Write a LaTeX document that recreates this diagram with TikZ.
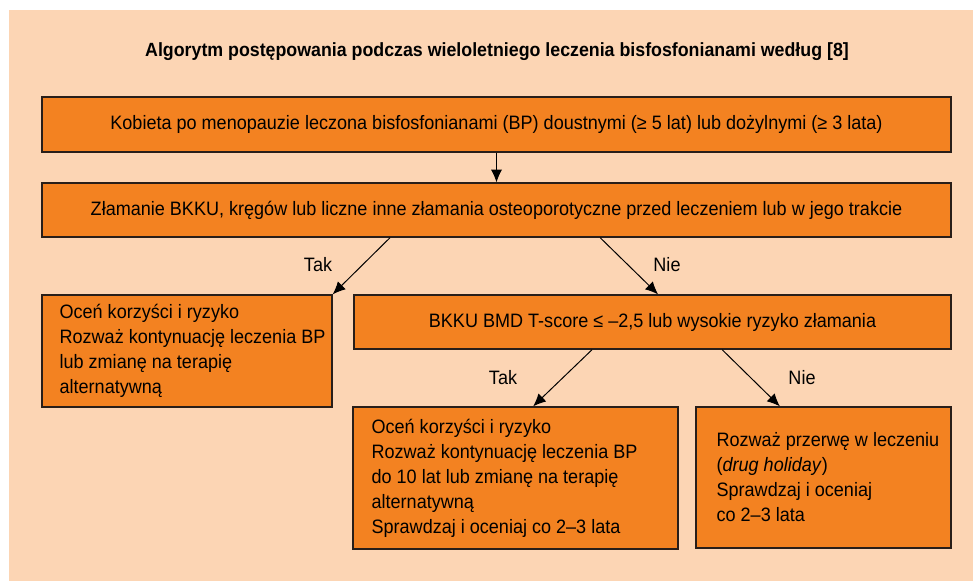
\documentclass[tikz,border=0pt]{standalone}
\usepackage{fontspec}
\setmainfont{Liberation Sans}[FakeStretch=0.93]
\usetikzlibrary{arrows.meta}
\definecolor{peach}{RGB}{252,213,180}
\definecolor{boxorange}{RGB}{243,130,33}
\definecolor{boxline}{RGB}{40,30,25}

\begin{document}
\begin{tikzpicture}[x=0.025cm, y=-0.025cm,
    arrow/.style = {line width=0.7pt,-{Latex[length=3.2mm,width=2.8mm]}},
    box/.style = {draw=boxline, line width=0.9pt, fill=boxorange, inner sep=0pt},
    txt/.style = {inner sep=0pt, align=left, anchor=west},
    every node/.style = {font=\fontsize{13.8}{17.8}\selectfont}]
  % background
  \fill[white] (0,0) rectangle (973,581);
  \fill[peach] (9,10) rectangle (973,581);
  \useasboundingbox (0,0) rectangle (973,581);

  \node[font=\bfseries\fontsize{13.6}{16}\selectfont] (title) at (497,52)
    {Algorytm postępowania podczas wieloletniego leczenia bisfosfonianami według [8]};

  \node[box, minimum width=22.725cm, minimum height=1.375cm] (start) at (496.5,124.5)
    {Kobieta po menopauzie leczona bisfosfonianami (BP) doustnymi (≥ 5 lat) lub dożylnymi (≥ 3 lata)};
  \node[box, minimum width=22.725cm, minimum height=1.35cm] (fracture) at (496.5,210)
    {Złamanie BKKU, kręgów lub liczne inne złamania osteoporotyczne przed leczeniem lub w jego trakcie};

  \node[box, minimum width=7.25cm, minimum height=2.8cm] (treatA) at (187,351) {};
  \node[txt] (treatAtxt) at ([xshift=0.45cm]treatA.west)
    {Oceń korzyści i ryzyko\\Rozważ kontynuację leczenia BP\\lub zmianę na terapię\\alternatywną};

  \node[box, minimum width=14.925cm, minimum height=1.35cm] (bmd) at (652.5,322)
    {BKKU BMD T-score ≤ –2,5 lub wysokie ryzyko złamania};

  \node[box, minimum width=8.125cm, minimum height=3.55cm] (treatB) at (515.5,478) {};
  \node[txt] (treatBtxt) at ([xshift=0.475cm]treatB.west)
    {Oceń korzyści i ryzyko\\Rozważ kontynuację leczenia BP\\do 10 lat lub zmianę na terapię\\alternatywną\\Sprawdzaj i oceniaj co 2–3 lata};

  \node[box, minimum width=6.375cm, minimum height=3.525cm] (holiday) at (823.5,477.5) {};
  \node[txt] (holidaytxt) at ([xshift=0.525cm]holiday.west)
    {Rozważ przerwę w leczeniu\\(\textit{drug holiday})\\Sprawdzaj i oceniaj\\co 2–3 lata};

  % arrows
  \draw[arrow] (start) -- (fracture);
  \draw[arrow] ([xshift=-2.66cm]fracture.south) -- (treatA.north east);
  \draw[arrow] ([xshift=2.59cm]fracture.south) -- ([xshift=0.14cm]bmd.north);
  \draw[arrow] ([xshift=-1.51cm]bmd.south) -- ([xshift=0.44cm]treatB.north);
  \draw[arrow] ([xshift=1.74cm]bmd.south) -- ([xshift=-1.09cm]holiday.north);

  \node (yes1) at (318,265) {Tak};
  \node (no1) at (667,265) {Nie};
  \node (yes2) at (503,378) {Tak};
  \node (no2) at (802,378) {Nie};
\end{tikzpicture}
\end{document}
